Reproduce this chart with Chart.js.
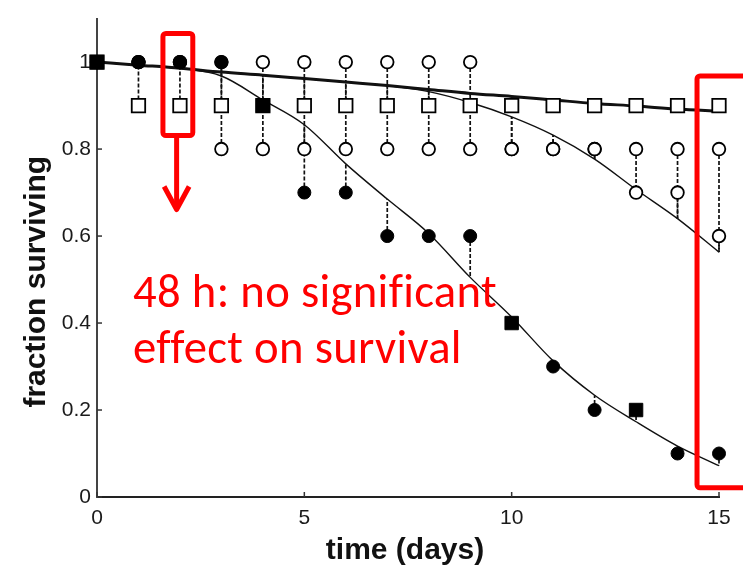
<!DOCTYPE html>
<html>
<head>
<meta charset="utf-8">
<script src="https://cdn.jsdelivr.net/npm/chart.js@4.4.1/dist/chart.umd.min.js"></script>
<style>
  html, body { margin:0; padding:0; background:#fff; }
</style>
</head>
<body>
<canvas id="survival" width="743" height="565"></canvas>
<script>
// survival curves (days 0..15)
const days = [0,1,2,3,4,5,6,7,8,9,10,11,12,13,14,15];

const filledCircles = [null,1,1,1,null,0.7,0.7,0.6,0.6,0.6,null,0.3,0.2,null,0.1,0.1];
const filledSquares = [1,null,null,null,0.9,null,null,null,null,null,0.4,null,null,0.2,null,null];
const openSquares   = [1,0.9,0.9,0.9,0.9,0.9,0.9,0.9,0.9,0.9,0.9,0.9,0.9,0.9,0.9,0.9];
const openCirclesA  = [1,1,1,1,1,1,1,1,1,1,0.8,0.8,0.8,0.8,0.8,0.8];
const openCirclesB  = [1,1,1,0.8,0.8,0.8,0.8,0.8,0.8,0.8,0.8,0.8,0.8,0.7,0.7,0.6];

// fitted model curves
const fitSquares = [1.000,0.993,0.986,0.977,0.970,0.962,0.954,0.946,0.937,0.928,0.921,0.913,0.905,0.899,0.892,0.887];
const fitOpen    = [1.000,0.993,0.986,0.977,0.970,0.962,0.954,0.946,0.932,0.907,0.874,0.832,0.777,0.707,0.640,0.563];
const fitFilled  = [1.000,0.993,0.986,0.968,0.913,0.856,0.766,0.685,0.606,0.505,0.414,0.313,0.234,0.173,0.117,0.072];

const xTicks = [0,5,10,15];
const yTicks = [0,0.2,0.4,0.6,0.8,1];
const yTickLabels = ['0','0.2','0.4','0.6','0.8','1'];

const xTitle = 'time (days)';
const yTitle = 'fraction surviving';
const noteLines = ['48 h: no significant','effect on survival'];

const RED = '#ff0000';
const INK = '#111';
const AXIS_FONT = "'Liberation Sans', Arial, sans-serif";

function toPoints(vals){
  return days.map((d,i) => ({x:d, y:vals[i]})).filter(p => p.y !== null);
}

// vertical segment from each point to its fitted curve, broken by gaps
function residuals(vals, fit){
  const pts = [];
  days.forEach((d,i) => {
    if (vals[i] === null) return;
    pts.push({x:d, y:vals[i]}, {x:d, y:fit[i]}, {x:d, y:null});
  });
  return pts;
}

const residualStyle = {
  showLine:true, pointRadius:0, borderColor:INK, borderWidth:1.7,
  borderDash:[4,2], tension:0, spanGaps:false, order:6, clip:false
};
const curveStyle = {
  showLine:true, pointRadius:0, borderColor:INK, cubicInterpolationMode:'monotone',
  order:5, clip:false
};

const overlay = {
  id:'overlay',
  beforeDatasetsDraw(chart){
    const {ctx, scales:{x, y}} = chart;
    ctx.save();
    ctx.strokeStyle = '#333';
    ctx.lineWidth = 1.5;
    yTicks.forEach(v => {
      const py = y.getPixelForValue(v);
      ctx.beginPath(); ctx.moveTo(x.left, py); ctx.lineTo(x.left + 5, py); ctx.stroke();
    });
    xTicks.forEach(v => {
      const px = x.getPixelForValue(v);
      ctx.beginPath(); ctx.moveTo(px, y.bottom); ctx.lineTo(px, y.bottom - 5); ctx.stroke();
    });
    ctx.restore();
  },
  afterDraw(chart){
    const {ctx, scales:{x, y}} = chart;
    ctx.save();

    // axis titles
    ctx.fillStyle = INK;
    ctx.font = `bold 30px ${AXIS_FONT}`;
    ctx.textAlign = 'center';
    ctx.textBaseline = 'alphabetic';
    ctx.fillText(xTitle, (x.left + x.right) / 2 - 3, chart.height - 6);
    ctx.save();
    ctx.translate(45, y.getPixelForValue(0.495));
    ctx.rotate(-Math.PI / 2);
    ctx.fillText(yTitle, 0, 0);
    ctx.restore();

    // red highlight boxes
    ctx.strokeStyle = RED;
    ctx.lineWidth = 5;
    ctx.lineJoin = 'round';
    const box = (x0, y0, x1, y1) => {
      const l = x.getPixelForValue(x0), r = x1 === null ? chart.width + 20 : x.getPixelForValue(x1);
      const t = y.getPixelForValue(y1), b = y.getPixelForValue(y0);
      ctx.beginPath();
      if (ctx.roundRect) ctx.roundRect(l, t, r - l, b - t, 3); else ctx.rect(l, t, r - l, b - t);
      ctx.stroke();
    };
    box(1.59, 0.831, 2.31, 1.066);
    box(14.47, 0.021, null, 0.968);

    // arrow down from the day-2 box
    const ax = x.getPixelForValue(1.92);
    const a0 = y.getPixelForValue(0.826), a1 = y.getPixelForValue(0.661);
    ctx.lineCap = 'butt';
    ctx.beginPath(); ctx.moveTo(ax, a0); ctx.lineTo(ax, a1 - 2); ctx.stroke();
    ctx.beginPath();
    ctx.moveTo(ax - 12.5, a1 - 23); ctx.lineTo(ax, a1); ctx.lineTo(ax + 12.5, a1 - 23);
    ctx.stroke();

    // note text (letter spacing keeps the fi / ff ligatures apart)
    ctx.fillStyle = RED;
    ctx.textAlign = 'left';
    if ('letterSpacing' in ctx) ctx.letterSpacing = '0.3px';
    let size = 46;
    const fam = 'Carlito, Lato, sans-serif';
    ctx.font = `${size}px ${fam}`;
    size = size * 364 / ctx.measureText(noteLines[0]).width;
    ctx.font = `${size}px ${fam}`;
    const nx = x.getPixelForValue(0.87);
    ctx.fillText(noteLines[0], nx, y.getPixelForValue(0.436));
    ctx.fillText(noteLines[1], nx, y.getPixelForValue(0.308));

    ctx.restore();
  }
};

new Chart(document.getElementById('survival'), {
  type:'scatter',
  data:{
    datasets:[
      { label:'filled squares', data:toPoints(filledSquares), pointStyle:'rect', pointRadius:9.5,
        backgroundColor:'#000', borderColor:'#000', borderWidth:1, order:1, clip:false },
      { label:'filled circles', data:toPoints(filledCircles), pointStyle:'circle', pointRadius:6.5,
        backgroundColor:'#000', borderColor:'#000', borderWidth:1, order:1, clip:false },
      { label:'open squares', data:toPoints(openSquares), pointStyle:'rect', pointRadius:9.5,
        backgroundColor:'#fff', borderColor:'#000', borderWidth:1.8, order:2, clip:false },
      { label:'open circles A', data:toPoints(openCirclesA), pointStyle:'circle', pointRadius:6.3,
        backgroundColor:'#fff', borderColor:'#000', borderWidth:1.8, order:3, clip:false },
      { label:'open circles B', data:toPoints(openCirclesB), pointStyle:'circle', pointRadius:6.3,
        backgroundColor:'#fff', borderColor:'#000', borderWidth:1.8, order:3, clip:false },
      { label:'fit squares', data:toPoints(fitSquares), ...curveStyle, borderWidth:3 },
      { label:'fit open', data:toPoints(fitOpen), ...curveStyle, borderWidth:1.4 },
      { label:'fit filled', data:toPoints(fitFilled), ...curveStyle, borderWidth:1.4 },
      { label:'res filled c', data:residuals(filledCircles, fitFilled), ...residualStyle },
      { label:'res filled s', data:residuals(filledSquares, fitFilled), ...residualStyle },
      { label:'res squares', data:residuals(openSquares, fitSquares), ...residualStyle },
      { label:'res open A', data:residuals(openCirclesA, fitOpen), ...residualStyle },
      { label:'res open B', data:residuals(openCirclesB, fitOpen), ...residualStyle }
    ]
  },
  options:{
    responsive:false,
    devicePixelRatio:1,
    animation:false,
    events:[],
    layout:{ padding:{ top:8, right:24, bottom:0, left:0 } },
    plugins:{ legend:{ display:false }, tooltip:{ enabled:false } },
    scales:{
      x:{
        type:'linear', min:0, max:15,
        grid:{ display:false, drawTicks:false },
        border:{ display:true, color:'#222', width:2 },
        afterBuildTicks:(s) => { s.ticks = xTicks.map(v => ({value:v})); },
        afterFit:(s) => { s.height = 68; },
        ticks:{ padding:9, color:'#1a1a1a', font:{ family:AXIS_FONT, size:21 },
          maxRotation:0, autoSkip:false, callback:(v) => String(v) }
      },
      y:{
        type:'linear', min:0, max:1.1,
        grid:{ display:false, drawTicks:false },
        border:{ display:true, color:'#444', width:2 },
        afterBuildTicks:(s) => { s.ticks = yTicks.map(v => ({value:v})); },
        afterFit:(s) => { s.width = 97; },
        ticks:{ padding:6, color:'#1a1a1a', font:{ family:AXIS_FONT, size:21 },
          autoSkip:false, callback:(v, i) => yTickLabels[i] }
      }
    }
  },
  plugins:[overlay]
});
</script>
</body>
</html>
